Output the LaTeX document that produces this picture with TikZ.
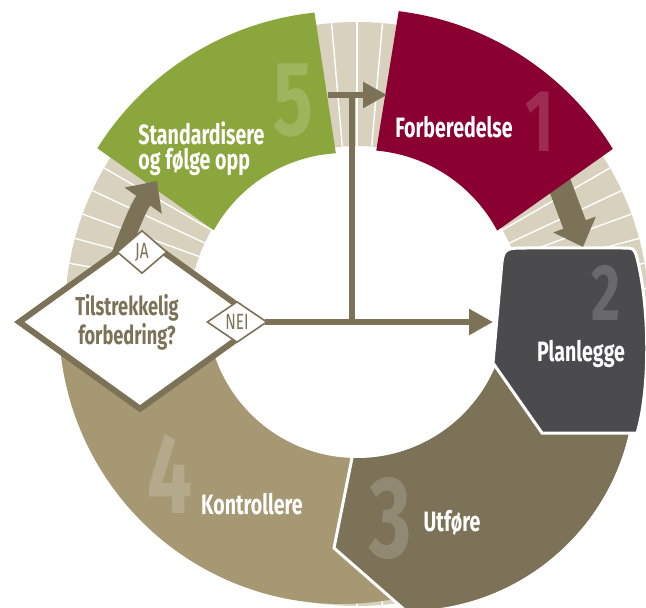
\documentclass[tikz,border=0pt]{standalone}
\usepackage{fontspec}
\setmainfont{Fira Sans}[FakeStretch=0.7]
\usetikzlibrary{shapes.geometric,arrows.meta,calc}

\definecolor{beige}{RGB}{216,209,190}
\definecolor{taupe}{RGB}{123,114,87}
\definecolor{sand}{RGB}{165,152,115}
\definecolor{wine}{RGB}{138,0,48}
\definecolor{moss}{RGB}{138,166,60}
\definecolor{slate}{RGB}{75,75,77}

\tikzset{
  seglabel/.style={text=white, font=\fontsize{14}{12.5}\selectfont\bfseries, inner sep=0pt},
  bignum/.style={text=white, text opacity=0.17, inner sep=0pt},
  decision/.style={diamond, draw=taupe, line width=3pt, fill=white, inner sep=0pt,
    minimum width=122pt, minimum height=88pt},
  dectext/.style={text=taupe, font=\fontsize{13}{12}\selectfont\bfseries, align=center, inner sep=0pt},
  answer/.style={diamond, draw=taupe, line width=0.8pt, fill=white, inner sep=0pt,
    text=taupe, font=\fontsize{11}{11}\selectfont},
  flow/.style={draw=taupe, line width=2.8pt, -{Triangle[length=12pt,width=12.5pt]}},
  trunk/.style={draw=taupe, line width=2.8pt},
  block/.style={draw=taupe, -{Triangle[length=12pt,width=22pt]}},
}

\begin{document}
\begin{tikzpicture}[x=0.5pt, y=-0.5pt]
	\useasboundingbox (0,0) rectangle (646,608);
	\coordinate (hub) at (357,314);
	% ring with ticks
	\fill[beige, even odd rule] (hub) circle[radius=292] (hub) circle[radius=168];
	\foreach \a in {0,5,...,355}
		\draw[white, line width=0.7pt] ($(hub)+(\a:168)$) -- ($(hub)+(\a:292)$);
	% 4 and 3
	\fill[sand] (341,322) -- ++(185:282) arc[start angle=185, end angle=60, radius=282] -- cycle;
	\fill[taupe, draw=white, line width=1.5pt] (357,308) -- (352,458) -- (334,548) -- (407,612)
		arc[start angle=90, end angle=0, radius=229] -- (600,330) -- cycle;
	\fill[white] (357,308) circle[radius=150];
	% 2
	\fill[slate, draw=white, line width=1.5pt] (493,363) -- (501,273) .. controls (503,248) .. (528,248)
		-- (622,248) .. controls (634,248) .. (637,258) .. controls (650,310) and (650,390) .. (637,433)
		-- (542,433) -- cycle;
	\coordinate (f-out) at (553,167);
	\coordinate (p-in) at (583,247);
	\draw[block, line width=12pt] (f-out) -- (p-in);
	% 1 and 5
	\coordinate (c1) at (363,302);
	\fill[wine] ($(c1)+(-83:293)$) arc[start angle=-83, end angle=-31.5, radius=293]
		-- ($(c1)+(-28:152)$) arc[start angle=-28, end angle=-85, radius=152] -- cycle;
	\coordinate (c5) at (345,303);
	\fill[moss] ($(c5)+(-148:292)$) arc[start angle=-148, end angle=-96, radius=292]
		-- ($(c5)+(-93.5:150)$) arc[start angle=-93.5, end angle=-151, radius=150] -- cycle;
	% numbers
	\node[bignum, font=\fontsize{53}{53}\selectfont\bfseries] (n5) at (293,101) {5};
	\node[bignum, font=\fontsize{44}{44}\selectfont\bfseries] (n1) at (540,122) {1};
	\node[bignum, font=\fontsize{40}{40}\selectfont\bfseries] (n2) at (606,293) {2};
	\node[bignum, font=\fontsize{58}{58}\selectfont\bfseries] (n3) at (391,518) {3};
	\node[bignum, font=\fontsize{57}{57}\selectfont\bfseries] (n4) at (170,474) {4};
	% connectors
	\coordinate (jn) at (352,322);
	\coordinate (jt) at (352,95);
	\coordinate (s-out) at (328,95);
	\coordinate (f-in) at (387,95);
	\coordinate (p-left) at (493,322);
	\draw[trunk] (jn) -- (jt);
	\draw[flow] (s-out) -- (f-in);
	\coordinate (ja-from) at (120,255);
	\coordinate (s-in) at (157,181);
	\draw[block, line width=8.5pt] (ja-from) .. controls (130,228) and (138,208) .. (s-in);
	% decision
	\node[decision] (dec) at (140,322) {};
	\node[dectext] (ask) at (127,322) {Tilstrekkelig\\forbedring?};
	\node[answer, minimum width=25pt, minimum height=21.5pt] (ja) at (142,252) {JA};
	\node[answer, minimum width=30pt, minimum height=20.5pt] (nei) at (237,322) {NEI};
	\draw[flow] (dec.east) -- (p-left);
	% labels
	\node[seglabel, align=left, anchor=north west] (std) at (138,121) {Standardisere\\og følge opp};
	\node[seglabel] (forb) at (454,127) {Forberedelse};
	\node[seglabel] (plan) at (581,354) {Planlegge};
	\node[seglabel] (utf) at (452,523) {Utføre};
	\node[seglabel] (kon) at (252,504) {Kontrollere};
\end{tikzpicture}
\end{document}
